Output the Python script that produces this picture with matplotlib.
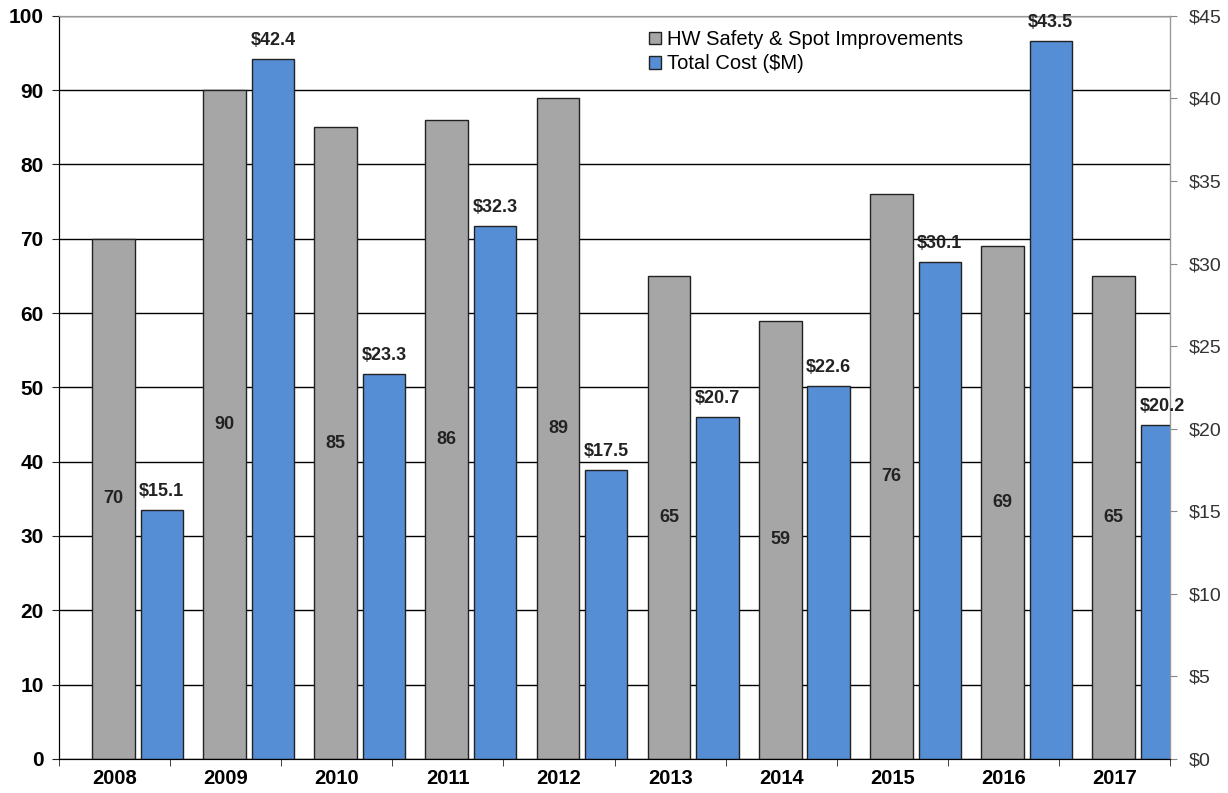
import matplotlib.pyplot as plt
import numpy as np

plt.rcParams["font.family"] = ["Liberation Sans", "DejaVu Sans"]

years = ["2008", "2009", "2010", "2011", "2012", "2013", "2014", "2015", "2016", "2017"]
projects = [70, 90, 85, 86, 89, 65, 59, 76, 69, 65]
cost = [15.1, 42.4, 23.3, 32.3, 17.5, 20.7, 22.6, 30.1, 43.5, 20.2]

gray = "#a6a6a6"
blue = "#558ed5"

fig = plt.figure(figsize=(12.28, 7.93), dpi=100)
ax = fig.add_axes([0.048, 0.043, 0.905, 0.937])
ax2 = ax.twinx()

x = np.arange(len(years))
ax.set_axisbelow(True)
ax.grid(axis="y", color="black", linewidth=1.0)
b1 = ax.bar(x - 0.01, projects, width=0.385, color=gray, edgecolor="#222222",
            linewidth=1.0, label="HW Safety & Spot Improvements", zorder=2)
for xi, v in zip(x, projects):
    ax.text(xi - 0.01, v / 2, f"{v}", ha="center", va="center",
            fontsize=13, fontweight="bold", color="#222222", zorder=3)

b2 = ax2.bar(x + 0.425, cost, width=0.38, color=blue, edgecolor="#222222",
             linewidth=1.0, label="Total Cost ($M)", zorder=2)
for xi, v in zip(x, cost):
    ax2.text(xi + 0.425, v + 0.6, f"${v}", ha="center", va="bottom",
             fontsize=13, fontweight="bold", color="#222222")

ax.set_xlim(-0.5, 9.5)
ax.set_ylim(0, 100)
ax2.set_ylim(0, 45)
ax.set_yticks(np.arange(0, 101, 10))
ax2.set_yticks(np.arange(0, 46, 5))
ax2.set_yticklabels([f"${t}" for t in range(0, 46, 5)])

ax.set_xticks(x)
ax.set_xticklabels(years, fontsize=14.5, fontweight="bold")
ax.set_xticks(np.arange(-0.5, 10, 1), minor=True)
ax.tick_params(axis="x", which="major", length=0, pad=7)
ax.tick_params(axis="x", which="minor", length=5, color="#222222")
ax.tick_params(axis="y", labelsize=15, length=5, color="#222222", pad=6)
for lab in ax.get_yticklabels():
    lab.set_fontweight("bold")
ax2.tick_params(axis="y", labelsize=14, length=5, color="#888888",
                labelcolor="#333333", pad=8)

ax.spines["top"].set_color("#999999")
ax2.spines["top"].set_color("#999999")
ax2.spines["right"].set_color("#999999")
ax.spines["left"].set_color("#222222")
ax.spines["bottom"].set_color("#222222")

ax.legend(handles=[b1, b2], loc="upper left", bbox_to_anchor=(0.52, 0.997),
          frameon=False, fontsize=14.5, handlelength=0.6, handleheight=0.6,
          handletextpad=0.3, labelspacing=0.25, borderaxespad=0.2)

fig.savefig("out.png", dpi=100)
